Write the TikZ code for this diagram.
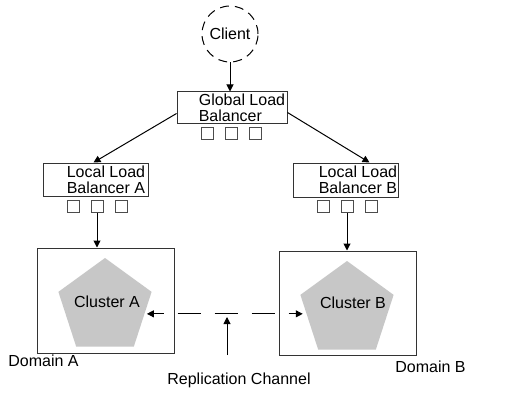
\documentclass[tikz,border=0pt]{standalone}
\usepackage{fontspec}
\setmainfont{Liberation Sans}
\usetikzlibrary{arrows.meta, positioning, calc, shapes.geometric}

\begin{document}
\begin{tikzpicture}[
        x=0.5pt, y=-0.5pt,
        every node/.style={font=\fontsize{8}{8}\selectfont},
        box/.style={draw=black!80, fill=white, line width=0.5pt, inner sep=0pt},
        txt/.style={align=left, inner sep=0pt},
        port/.style={draw=black!70, fill=white, line width=0.5pt,
                     minimum size=6pt, inner sep=0pt},
        cluster/.style={regular polygon, regular polygon sides=5, fill=black!22,
                        minimum size=49pt, inner sep=0pt},
        arr/.style={-{Triangle[length=3.5pt, width=3.5pt]}, line width=0.5pt},
        repl/.style={{Triangle[length=3.5pt, width=3.5pt]}-{Triangle[length=3.5pt, width=3.5pt]},
                     line width=0.5pt, dash pattern=on 11.5pt off 7pt, dash phase=6.5pt}
    ]
    \useasboundingbox (0,0) rectangle (513,401);

    % client and balancers
    \node[draw, circle, line width=0.5pt, dash pattern=on 4.5pt off 3pt,
          minimum size=28pt, inner sep=0pt] (client) at (230,34) {Client};
    \node[box, minimum width=55pt, minimum height=15.5pt] (glb) at (232,107.5) {};
    \node[txt, left=1pt of glb.east] (glbtext) {Global Load\\Balancer};
    \node[box, minimum width=52.5pt, minimum height=16.5pt] (llA) at (95.5,179.5) {};
    \node[txt, left=1.5pt of llA.east] (llAtext) {Local Load\\Balancer A};
    \node[box, minimum width=52.5pt, minimum height=17pt] (llB) at (345.5,180) {};
    \node[txt, left=0.5pt of llB.east] (llBtext) {Local Load\\Balancer B};

    \foreach \i/\dx in {1/-25, 2/-1, 3/23}
        \node[port] (gp\i) at ($(glb.south)+(\dx,10)$) {};
    \foreach \i/\dx in {1/-22.5, 2/1.5, 3/25.5} {
        \node[port] (ap\i) at ($(llA.south)+(\dx,9.5)$) {};
        \node[port] (bp\i) at ($(llB.south)+(\dx,9)$) {};
    }

    % domains with clusters
    \node[box, minimum width=68.5pt, minimum height=52.5pt] (domA) at (105.5,300.5) {};
    \node[box, minimum width=68.5pt, minimum height=52pt] (domB) at (347.5,303) {};
    \node[cluster] (clA) at (105,307) {};
    \node[cluster] (clB) at (347,310) {};
    \node[txt] (clAtext) at (107,302) {Cluster A};
    \node[txt] (clBtext) at (353,303) {Cluster B};
    \node[txt, anchor=west] (dAtext) at (8,361) {Domain A};
    \node[txt, anchor=west] (dBtext) at (395,367) {Domain B};
    \node[txt] (repltext) at (239,380) {Replication Channel};

    % connectors
    \draw[arr] (client.south) -- (client.south |- glb.north);
    \draw[arr] ([yshift=-3pt]glb.west) -- ([xshift=-1pt]llA.north);
    \draw[arr] ([yshift=-2.5pt]glb.east) -- ([xshift=12pt]llB.north);
    \draw[arr] (ap2.south) -- (ap2.south |- domA.north);
    \draw[arr] (bp2.south) -- (bp2.south |- domB.north);

    \coordinate (rA) at ($(clA.corner 4)!0.6!(clA.corner 5)$);
    \coordinate (rB) at ($(clB.corner 3)!0.62!(clB.corner 2)$);
    \draw[repl, shorten <=1pt, shorten >=2pt] (rA) -- (rA -| rB);
    \coordinate (tap) at (227,317);
    \draw[arr, shorten <=8.5pt] (tap |- repltext.north) -- (tap);
\end{tikzpicture}
\end{document}
